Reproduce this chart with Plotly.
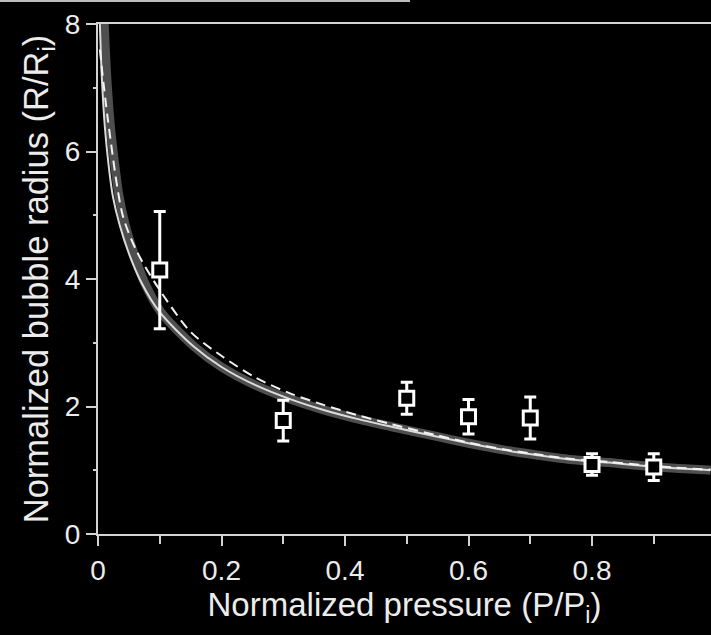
import plotly.graph_objects as go

# Measured data points (squares with error bars)
pressure_pts = [0.1, 0.3, 0.5, 0.6, 0.7, 0.8, 0.9]
radius_pts = [4.14, 1.78, 2.13, 1.84, 1.82, 1.09, 1.05]
radius_err = [0.92, 0.32, 0.25, 0.27, 0.33, 0.17, 0.21]

# Solid model curve (thin light line)
solid_x = [0.0005, 0.003, 0.006, 0.011, 0.017, 0.024, 0.035, 0.05, 0.07, 0.1, 0.155, 0.2, 0.256,
           0.31, 0.364, 0.418, 0.472, 0.548, 0.602, 0.656, 0.71, 0.764, 0.828, 0.882, 0.936, 0.992]
solid_y = [8.6, 8.0, 7.2, 6.4, 5.8, 5.3, 4.85, 4.4, 3.95, 3.48, 2.94, 2.62, 2.33,
           2.12, 1.95, 1.81, 1.69, 1.53, 1.42, 1.32, 1.24, 1.17, 1.12, 1.07, 1.03, 1.00]

# Grey band around the solid curve
band_x = [0.008, 0.010, 0.014, 0.020, 0.027, 0.034, 0.044, 0.058, 0.075, 0.102, 0.156, 0.2, 0.256,
          0.31, 0.364, 0.418, 0.472, 0.548, 0.602, 0.656, 0.71, 0.764, 0.828, 0.882, 0.936, 0.992]
band_y = [8.6, 8.0, 7.2, 6.4, 5.8, 5.3, 4.85, 4.4, 3.95, 3.48, 2.94, 2.62, 2.33,
          2.12, 1.95, 1.81, 1.69, 1.53, 1.42, 1.32, 1.24, 1.17, 1.12, 1.07, 1.03, 1.00]

# Dashed model curve
dash_x = [0.003, 0.016, 0.040, 0.062, 0.095, 0.15, 0.202, 0.256, 0.31, 0.364, 0.418, 0.472,
          0.548, 0.602, 0.656, 0.71, 0.764, 0.828, 0.882, 0.936, 0.992]
dash_y = [7.6, 6.5, 5.0, 4.45, 3.9, 3.17, 2.78, 2.45, 2.21, 2.03, 1.87, 1.73,
          1.55, 1.43, 1.33, 1.25, 1.18, 1.13, 1.08, 1.04, 1.01]

x_tick_vals = [0, 0.2, 0.4, 0.6, 0.8]
x_tick_text = ["0", "0.2", "0.4", "0.6", "0.8"]
y_tick_vals = [0, 2, 4, 6, 8]
y_tick_text = ["0", "2", "4", "6", "8"]

AX = "#d2d2d2"
TXT = "#ececec"
FONT = "Liberation Sans, Arial, sans-serif"

fig = go.Figure()
fig.add_trace(go.Scatter(x=band_x, y=band_y, mode="lines",
                         line=dict(color="#4e4e4e", width=9, shape="spline", smoothing=0.8),
                         hoverinfo="skip"))
fig.add_trace(go.Scatter(x=solid_x, y=solid_y, mode="lines",
                         line=dict(color="#dcdcdc", width=2, shape="spline", smoothing=0.8),
                         hoverinfo="skip"))
fig.add_trace(go.Scatter(x=dash_x, y=dash_y, mode="lines",
                         line=dict(color="#f2f2f2", width=2, dash="10px,6px", shape="spline",
                                   smoothing=0.8),
                         hoverinfo="skip"))
fig.add_trace(go.Scatter(x=pressure_pts, y=radius_pts, mode="markers",
                         marker=dict(symbol="square", size=14, color="black",
                                     line=dict(color="white", width=3)),
                         error_y=dict(type="data", array=radius_err, color="white",
                                      thickness=3, width=6)))

fig.add_shape(type="line", xref="paper", yref="paper", x0=-0.17, x1=0.509, y0=1.045, y1=1.045,
              line=dict(color="#bdbdbd", width=2))

fig.update_layout(
    width=711, height=635,
    paper_bgcolor="black", plot_bgcolor="black",
    margin=dict(l=98, r=0, t=24, b=101),
    showlegend=False,
    font=dict(family=FONT, color=TXT, size=28),
)
fig.update_xaxes(
    range=[0, 0.9927], tickvals=x_tick_vals, ticktext=x_tick_text,
    showgrid=False, zeroline=False, showline=True, linecolor=AX, linewidth=2, mirror=True,
    ticks="outside", ticklen=10, tickwidth=2, tickcolor=AX,
    minor=dict(dtick=0.1, ticks="outside", ticklen=8, tickwidth=2, tickcolor=AX, showgrid=False),
    tickfont=dict(size=28, color=TXT),
    title=dict(text="Normalized pressure (P/P<sub>i</sub>)", font=dict(size=33, color=TXT),
               standoff=8),
)
fig.update_yaxes(
    range=[0, 8], tickvals=y_tick_vals, ticktext=y_tick_text,
    showgrid=False, zeroline=False, showline=True, linecolor=AX, linewidth=2,
    ticks="outside", ticklen=10, tickwidth=2, tickcolor=AX,
    minor=dict(dtick=1, ticks="outside", ticklen=3, tickwidth=2, tickcolor=AX, showgrid=False),
    tickfont=dict(size=28, color=TXT),
    title=dict(text="Normalized bubble radius (R/R<sub>i</sub>)", font=dict(size=34.5, color=TXT),
               standoff=6),
)

fig.write_html("out.html",
               config={"displayModeBar": False},
               post_script="document.body.style.margin='0px';"
                           "document.body.style.background='black';"
                           "document.documentElement.style.background='black';")
